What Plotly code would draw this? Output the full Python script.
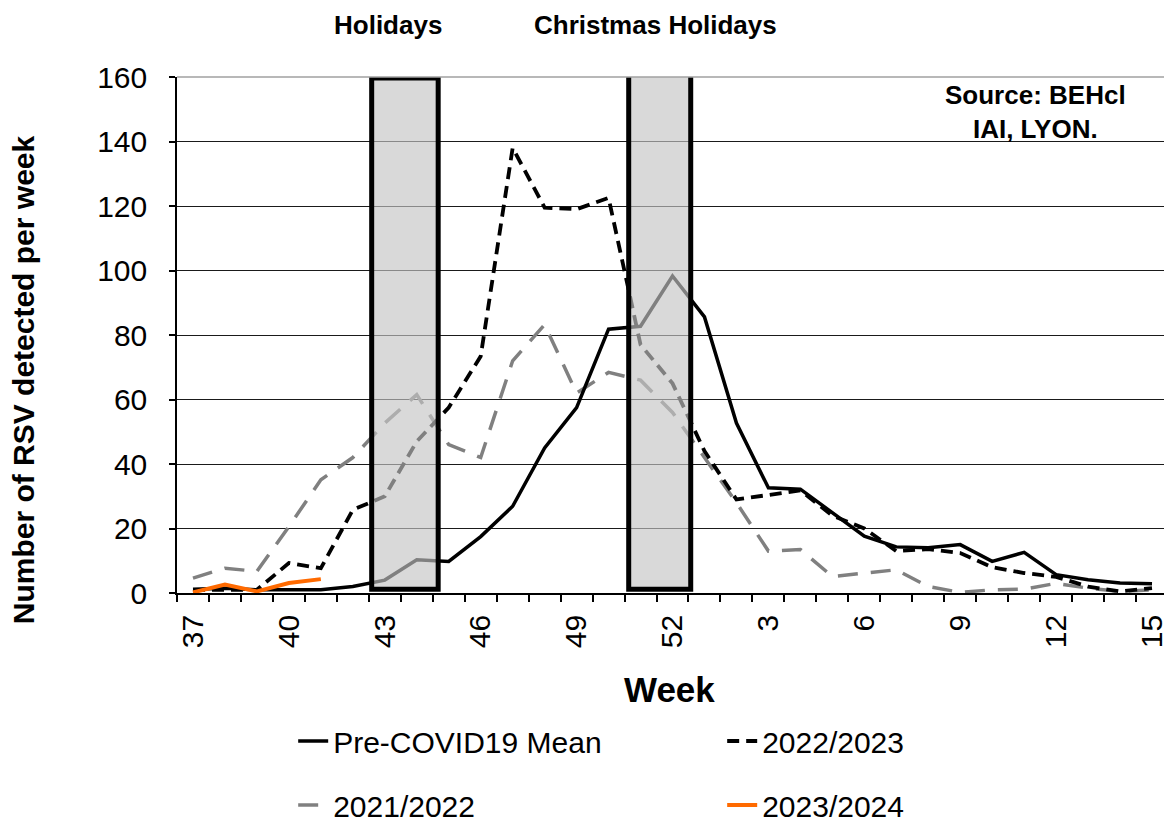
import plotly.graph_objects as go

# week numbers on the category axis (season runs from week 37 to week 15)
weeks = [str(w) for w in range(37, 53)] + [str(w) for w in range(1, 16)]
tick_labels = weeks[::3]

pre_covid_mean = [1.2, 1.5, 1, 1, 1, 2, 4, 10.3, 9.8, 17.5, 26.9, 45, 57.5, 81.8, 82.7, 98.3,
                  85.6, 52.7, 32.6, 32.2, 24.8, 17.6, 14.3, 14, 15, 9.8, 12.6, 5.7, 4.1, 3.1, 2.9]
season_2022_2023 = [1, 1, 1, 9.3, 7.7, 25.8, 30, 47, 57.5, 73.4, 138, 119.5, 119, 122.5, 77, 65,
                    44, 29, 30.5, 31.8, 24, 20, 13, 13.6, 12.4, 8, 6.2, 5, 2, 0.5, 1.5]
season_2021_2022 = [4.6, 7.7, 6.7, 20.6, 35.1, 42, 52.7, 61.5, 46, 42, 72, 83.2, 62, 68.4, 66, 56,
                    42, 28, 13, 13.5, 5.1, 6.2, 7.2, 2, 0.2, 1, 1.2, 3, 1.5, 0.5, 1]
season_2023_2024 = [0.2, 2.6, 0.5, 3.1, 4.3]

FONT = "Liberation Sans, Arial, sans-serif"
x_idx = list(range(len(weeks)))

fig = go.Figure()
fig.add_trace(go.Scatter(x=x_idx, y=season_2021_2022, mode="lines", name="2021/2022",
                         line=dict(color="#808080", width=3.5, dash="20px,13px"),
                         legend="legend2", legendrank=1))
fig.add_trace(go.Scatter(x=x_idx, y=season_2022_2023, mode="lines", name="2022/2023",
                         line=dict(color="black", width=3.8, dash="12px,7px"), legendrank=2))
fig.add_trace(go.Scatter(x=x_idx, y=pre_covid_mean, mode="lines", name="Pre-COVID19 Mean",
                         line=dict(color="black", width=3.5), legendrank=1))
fig.add_trace(go.Scatter(x=x_idx[:len(season_2023_2024)], y=season_2023_2024, mode="lines",
                         name="2023/2024", line=dict(color="#ff6a00", width=4),
                         legend="legend2", legendrank=2))

# holiday periods, drawn as translucent boxes over the curves
for x0, x1, top in [(5.59, 7.67, 159.7), (13.63, 15.57, 161)]:
    fig.add_shape(type="rect", xref="x", yref="y", x0=x0, x1=x1, y0=1.2, y1=top,
                  fillcolor="rgba(197,197,197,0.65)", line=dict(color="black", width=5),
                  layer="above")

# grey plot border on top and right
fig.add_shape(type="line", xref="paper", yref="paper", x0=0, x1=1, y0=1, y1=1,
              line=dict(color="#a0a0a0", width=1.5), layer="above")
fig.add_shape(type="line", xref="paper", yref="paper", x0=1, x1=1, y0=0, y1=1,
              line=dict(color="#a0a0a0", width=1.5), layer="above")

bold = dict(family=FONT, color="black", weight="bold")
note = dict(xref="paper", yref="paper", xanchor="center", yanchor="middle", showarrow=False)
fig.add_annotation(text="Holidays", x=0.2126, y=1.10, font=dict(size=26, **bold), **note)
fig.add_annotation(text="Christmas Holidays", x=0.483, y=1.10, font=dict(size=26, **bold), **note)
fig.add_annotation(text="Source: BEHcl<br>IAI, LYON.", x=0.866, y=0.932, align="center",
                   font=dict(size=26, **bold), **note)
fig.add_annotation(text="Number of RSV detected per week", x=-0.154, y=0.413, textangle=-90,
                   font=dict(size=30, **bold), **note)
fig.add_annotation(text="Week", x=0.497, y=-0.187, font=dict(size=35, **bold), **note)

fig.update_xaxes(range=[-0.5, 30.5], tickvals=x_idx[::3], ticktext=tick_labels,
                 tickangle=-90, ticks="", ticklabelstandoff=8, automargin=False,
                 tickfont=dict(family=FONT, size=30, color="black"),
                 showline=True, linecolor="black", linewidth=1.5, showgrid=False,
                 zeroline=False,
                 minor=dict(ticks="outside", tick0=0.5, dtick=1, ticklen=7,
                            tickcolor="black", tickwidth=1.5, showgrid=False))
fig.update_yaxes(range=[0, 160], tickvals=list(range(0, 161, 20)), ticks="outside",
                 ticklen=6, tickcolor="black", tickwidth=1.5, ticklabelstandoff=16,
                 automargin=False,
                 tickfont=dict(family=FONT, size=30, color="black"),
                 showline=True, linecolor="black", linewidth=1.5,
                 showgrid=True, gridcolor="#1a1a1a", gridwidth=1.3, zeroline=False)

# the page body adds an 8px margin, so the figure is 8px smaller than the window
legend_style = dict(orientation="h", xref="container", yref="container", x=0.245,
                    xanchor="left", yanchor="middle", entrywidth=384,
                    entrywidthmode="pixels", bgcolor="rgba(0,0,0,0)",
                    font=dict(family=FONT, size=30, color="black"), traceorder="normal")
fig.update_layout(
    width=1164, height=819,
    margin=dict(l=169, r=4, t=69, b=234, autoexpand=False),
    paper_bgcolor="white", plot_bgcolor="white",
    showlegend=True,
    legend=dict(y=0.105, **legend_style),
    legend2=dict(y=0.027, **legend_style),
)

fig.write_html("out.html")
